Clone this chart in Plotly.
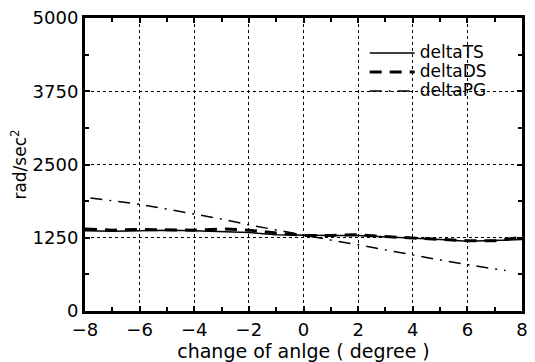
import plotly.graph_objects as go

x_vals = [-8, -7, -6, -5, -4, -3, -2, -1, 0, 1, 2, 3, 4, 5, 6, 7, 8]
delta_ts = [1370, 1360, 1370, 1380, 1370, 1360, 1340, 1300, 1290, 1290, 1290, 1270, 1250, 1220, 1190, 1200, 1220]
delta_ds = [1400, 1380, 1390, 1390, 1380, 1400, 1380, 1330, 1290, 1290, 1300, 1270, 1250, 1230, 1200, 1200, 1260]
x_pg = [-7.8, -7, -6, -5, -4, -3, -2, -1, 0, 1, 2, 3, 4, 5, 6, 7, 7.4]
delta_pg = [1930, 1880, 1820, 1740, 1660, 1570, 1470, 1380, 1300, 1210, 1130, 1040, 960, 870, 790, 710, 690]

x_ticks = [-8, -6, -4, -2, 0, 2, 4, 6, 8]
x_tick_text = ["−8", "−6", "−4", "−2", "0", "2", "4", "6", "8"]
y_ticks = [0, 1250, 2500, 3750, 5000]

FONT = "DejaVu Sans"


def leg(name):
    return f"<span style='font-size:17px'>{name}</span>"


fig = go.Figure()
fig.add_trace(go.Scatter(x=x_vals, y=delta_ts, mode="lines", name=leg("deltaTS"),
                         line=dict(color="black", width=1.5)))
fig.add_trace(go.Scatter(x=x_vals, y=delta_ds, mode="lines", name=leg("deltaDS"),
                         line=dict(color="black", width=3, dash="12px,8px")))
fig.add_trace(go.Scatter(x=x_pg, y=delta_pg, mode="lines", name=leg("deltaPG"),
                         line=dict(color="black", width=1.5, dash="12px,7px,2px,7px")))

axis_common = dict(
    showline=True, linecolor="black", linewidth=3, mirror="ticks",
    ticks="inside", ticklen=5, tickwidth=1.5, tickcolor="black",
    showgrid=True, gridcolor="black", griddash="dot", gridwidth=1,
    zeroline=False,
    tickfont=dict(family=FONT, size=18, color="black"),
)

fig.update_xaxes(range=[-8, 8], tickvals=x_ticks, ticktext=x_tick_text,
                 minor=dict(dtick=1, ticks="inside", ticklen=4, tickcolor="black", showgrid=False),
                 title=dict(text="change of anlge ( degree )", font=dict(family=FONT, size=19, color="black"), standoff=2),
                 **axis_common)
fig.update_yaxes(range=[0, 5000], tickvals=y_ticks,
                 minor=dict(dtick=625, ticks="inside", ticklen=4, tickcolor="black", showgrid=False),
                 title=dict(text="rad/sec<sup>2</sup>", font=dict(family=FONT, size=17, color="black"), standoff=2),
                 **axis_common)

fig.update_layout(
    width=535, height=362,
    margin=dict(l=85, r=7, t=14, b=51),
    paper_bgcolor="white", plot_bgcolor="white",
    showlegend=True,
    legend=dict(x=0.64, y=0.93, xanchor="left", yanchor="top",
                bgcolor="rgba(0,0,0,0)", borderwidth=0,
                font=dict(family=FONT, size=12, color="black"),
                itemwidth=45, tracegroupgap=0),
)

fig.write_html("out.html")
